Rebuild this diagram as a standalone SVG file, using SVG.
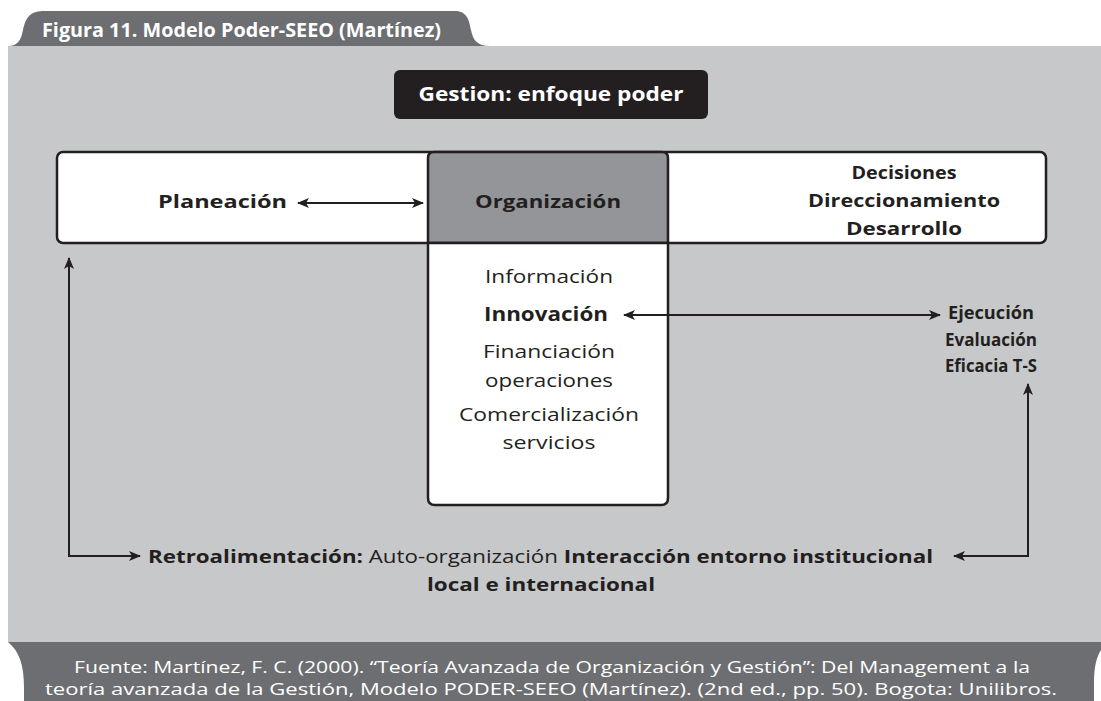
<svg xmlns="http://www.w3.org/2000/svg" width="1101" height="701" viewBox="0 0 1101 701">
<defs>
<marker id="ah" viewBox="0 0 12 10" refX="11" refY="5" markerWidth="12" markerHeight="10" markerUnits="userSpaceOnUse" orient="auto-start-reverse">
<path d="M0,0 L12,5 L0,10 L3,5 Z" fill="#231f20"/>
</marker>
<style>
.t{font-family:"Open Sans","DejaVu Sans",sans-serif;fill:#231f20}
.b{font-weight:bold}
.w{fill:#ffffff}
.ln{fill:none;stroke:#231f20;stroke-width:2}
.bx{stroke:#231f20;stroke-width:2.5}
</style>
</defs>
<rect x="0" y="0" width="1101" height="701" fill="#ffffff"/>
<g id="frame">
<path d="M8,46 C18,46 21,40 23,30 C26,16 31,11 45,11 L455,11 C467,11 469,20 471,30 C473,40 477,46 490,46 Z" fill="#6d6e71"/>
<rect x="8" y="46" width="1093" height="596" fill="#c7c8ca"/>
<path d="M8,642 L1101,642 L1101,650 C1096,658 1094,668 1094,684 L1094,701 L24,701 L24,688 C24,666 20,652 8,642 Z" fill="#6d6e71"/>
<text class="t b w" x="42" y="37" font-size="19.5" textLength="399" lengthAdjust="spacingAndGlyphs">Figura 11. Modelo Poder-SEEO (Martínez)</text>
<text class="t w" x="552" y="673" font-size="17" text-anchor="middle" textLength="956" lengthAdjust="spacingAndGlyphs">Fuente: Martínez, F.  C. (2000). “Teoría Avanzada  de Organización y Gestión”: Del Management a la</text>
<text class="t w" x="551" y="695" font-size="17" text-anchor="middle" textLength="1012" lengthAdjust="spacingAndGlyphs">teoría avanzada de la Gestión, Modelo PODER-SEEO (Martínez). (2nd ed., pp. 50).  Bogota: Unilibros.</text>
</g>
<g id="gestion">
<rect x="394" y="70" width="314" height="49" rx="6" fill="#231f20"/>
<text class="t b w" x="551" y="101" font-size="20" text-anchor="middle" textLength="265" lengthAdjust="spacingAndGlyphs">Gestion: enfoque poder</text>
</g>
<g id="main">
<rect class="bx" x="57" y="152" width="989" height="91" rx="6" fill="#ffffff"/>
<text class="t b" x="158" y="208" font-size="18.5" textLength="129" lengthAdjust="spacingAndGlyphs">Planeación</text>
<text class="t b" x="904" y="179" font-size="18.5" text-anchor="middle" textLength="105" lengthAdjust="spacingAndGlyphs">Decisiones</text>
<text class="t b" x="904" y="207" font-size="18.5" text-anchor="middle" textLength="192" lengthAdjust="spacingAndGlyphs">Direccionamiento</text>
<text class="t b" x="904" y="235" font-size="18.5" text-anchor="middle" textLength="116" lengthAdjust="spacingAndGlyphs">Desarrollo</text>
</g>
<g id="organizacion">
<path class="bx" d="M428,243 L428,158 Q428,152 434,152 L662,152 Q668,152 668,158 L668,243 Z" fill="#939598"/>
<text class="t b" x="548" y="208" font-size="18.5" text-anchor="middle" textLength="146" lengthAdjust="spacingAndGlyphs">Organización</text>
</g>
<g id="funciones">
<path class="bx" d="M428,243 L428,498 Q428,505 435,505 L661,505 Q668,505 668,498 L668,243 Z" fill="#ffffff"/>
<text class="t" x="549" y="283" font-size="18.5" text-anchor="middle" textLength="128" lengthAdjust="spacingAndGlyphs">Información</text>
<text class="t b" x="546" y="321" font-size="20" text-anchor="middle" textLength="124" lengthAdjust="spacingAndGlyphs">Innovación</text>
<text class="t" x="549" y="358" font-size="18.5" text-anchor="middle" textLength="132" lengthAdjust="spacingAndGlyphs">Financiación</text>
<text class="t" x="549" y="387" font-size="18.5" text-anchor="middle" textLength="128" lengthAdjust="spacingAndGlyphs">operaciones</text>
<text class="t" x="549" y="421" font-size="18.5" text-anchor="middle" textLength="180" lengthAdjust="spacingAndGlyphs">Comercialización</text>
<text class="t" x="549" y="449" font-size="18.5" text-anchor="middle" textLength="93" lengthAdjust="spacingAndGlyphs">servicios</text>
</g>
<g id="ejecucion">
<text class="t b" x="991" y="319" font-size="18.5" text-anchor="middle" textLength="86" lengthAdjust="spacingAndGlyphs">Ejecución</text>
<text class="t b" x="991" y="346" font-size="18.5" text-anchor="middle" textLength="92" lengthAdjust="spacingAndGlyphs">Evaluación</text>
<text class="t b" x="991" y="372" font-size="18.5" text-anchor="middle" textLength="92" lengthAdjust="spacingAndGlyphs">Eficacia T-S</text>
</g>
<g id="retro">
<text class="t" x="148" y="563" font-size="18.5" textLength="785" lengthAdjust="spacingAndGlyphs"><tspan class="b">Retroalimentación:</tspan> Auto-organización <tspan class="b">Interacción entorno institucional</tspan></text>
<text class="t b" x="541" y="591" font-size="18.5" text-anchor="middle" textLength="228" lengthAdjust="spacingAndGlyphs">local e internacional</text>
</g>
<g id="connectors">
<line class="ln" x1="298" y1="203" x2="423" y2="203" marker-start="url(#ah)" marker-end="url(#ah)"/>
<line class="ln" x1="624" y1="315" x2="940" y2="315" marker-start="url(#ah)" marker-end="url(#ah)"/>
<polyline class="ln" points="69,258 69,556 140,556" marker-start="url(#ah)" marker-end="url(#ah)"/>
<polyline class="ln" points="1028,384 1028,556 954,556" marker-start="url(#ah)" marker-end="url(#ah)"/>
</g>
</svg>
